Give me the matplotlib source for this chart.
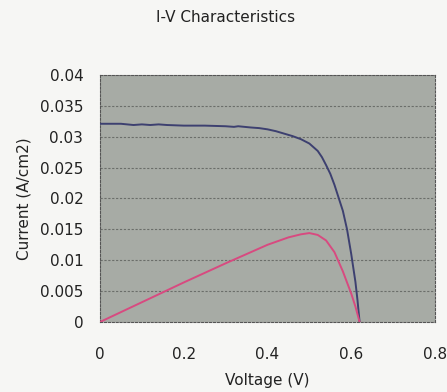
import numpy as np
import matplotlib
matplotlib.use("Agg")
import matplotlib.pyplot as plt

plt.rcParams['font.family'] = ['DejaVu Sans']

# Curva I-V
v_iv = [0.0, 0.05, 0.08, 0.10, 0.12, 0.14, 0.16, 0.20, 0.25, 0.30, 0.32, 0.33,
        0.36, 0.38, 0.40, 0.42, 0.44, 0.46, 0.48, 0.50, 0.52, 0.53, 0.54, 0.55,
        0.56, 0.57, 0.58, 0.59, 0.60, 0.61, 0.615, 0.62]
i_iv = [0.0321, 0.0321, 0.0319, 0.0320, 0.0319, 0.0320, 0.0319, 0.0318, 0.0318,
        0.0317, 0.0316, 0.0317, 0.0315, 0.0314, 0.0312, 0.0309, 0.0305, 0.0301,
        0.0296, 0.0289, 0.0277, 0.0267, 0.0254, 0.0240, 0.0222, 0.0201, 0.0180,
        0.0150, 0.0110, 0.0065, 0.0035, 0.0000]

# Curva de potencia
v_p = [0.0, 0.1, 0.2, 0.3, 0.4, 0.45, 0.48, 0.50, 0.52, 0.54, 0.56, 0.58, 0.60, 0.61, 0.62]
p = [0.0, 0.0032, 0.0064, 0.0095, 0.0125, 0.0137, 0.0142, 0.0144, 0.0141, 0.0132,
     0.0113, 0.0082, 0.0046, 0.0025, 0.0]

xticks = [0, 0.2, 0.4, 0.6, 0.8]
yticks = [0, 0.005, 0.01, 0.015, 0.02, 0.025, 0.03, 0.035, 0.04]

fig = plt.figure(figsize=(4.47, 3.92), dpi=100, facecolor='#f6f6f4')
ax = fig.add_axes([0.2237, 0.1786, 0.7494, 0.6301])
ax.set_facecolor('#a7aba5')

for y in yticks[1:-1]:
    ax.axhline(y, color='#6b6e6a', lw=0.8, ls=(0, (2, 1.5)), zorder=1)

ax.plot(v_iv, i_iv, color='#3d4070', lw=1.4, zorder=3)
ax.plot(v_p, p, color='#d84a80', lw=1.4, zorder=3)

ax.set_xlim(0, 0.8)
ax.set_ylim(0, 0.04)
ax.set_xticks(xticks)
ax.set_xticklabels(['0', '0.2', '0.4', '0.6', '0.8'])
ax.set_yticks(yticks)
ax.set_yticklabels(['0', '0.005', '0.01', '0.015', '0.02', '0.025', '0.03', '0.035', '0.04'])
ax.tick_params(axis='both', length=0, labelsize=11, colors='#222222')
ax.tick_params(axis='x', pad=18)
ax.tick_params(axis='y', pad=12)

for s in ax.spines.values():
    s.set_color('#555555')
    s.set_linestyle((0, (2, 1.5)))
    s.set_linewidth(0.8)

ax.set_xlabel("Voltage (V)", fontsize=11, color='#222222', labelpad=8)
ax.set_ylabel("Current (A/cm2)", fontsize=11, color='#222222', labelpad=6)
fig.text(0.505, 0.955, "I-V Characteristics", ha='center', va='center', fontsize=11, color='#222222')

fig.savefig("out.png", dpi=100, facecolor=fig.get_facecolor())
